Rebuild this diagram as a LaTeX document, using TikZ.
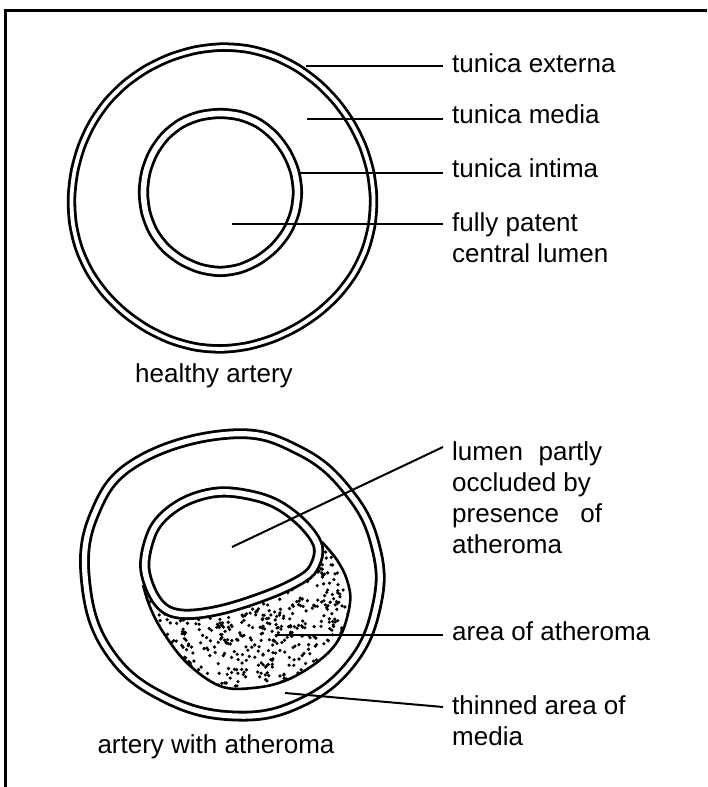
\documentclass[tikz,border=0pt]{standalone}
\usepackage{fontspec}
\setmainfont{Liberation Sans}
\begin{document}
\begin{tikzpicture}[x=1pt,y=-1pt,
  wall/.style={line width=2.8pt,double,double distance=#1},
  wall/.default=5pt,
  leader/.style={line width=2pt},
  every node/.style={font=\fontsize{26}{31}\selectfont,inner sep=0pt},
  lbl/.style={anchor=base west,align=left,inner xsep=9pt}]
\useasboundingbox (0,0) rectangle (707,787);
% frame
\draw[line width=3pt] (5.5,787) -- (5.5,10.5) -- (707,10.5);

% healthy artery: externa/media wall and intima ring
\draw[wall=3.8pt] plot[smooth cycle,domain=0:350,samples=36,variable=\t]
  ({222+151*(1+0.01*sin(3*\t+20))*cos(\t)},{198+150*(1+0.008*sin(4*\t+50))*sin(\t)});
\draw[wall=5.6pt] plot[smooth cycle,domain=0:345,samples=24,variable=\t]
  ({220+77*(1+0.006*sin(3*\t+80))*cos(\t)},{192+79*(1+0.006*sin(5*\t+10))*sin(\t)});

\coordinate (ext) at (306,66);
\coordinate (med) at (307,119);
\coordinate (int) at (300,173);
\coordinate (lum) at (232,224);
\node[lbl] (externa) at (443,72) {tunica externa};
\node[lbl] (media) at (443,123) {tunica media};
\node[lbl] (intima) at (443,177) {tunica intima};
\node[lbl] (patent) at (443,262) {fully patent\\central lumen};
\node[anchor=base] (healthy) at (214,382) {healthy artery};
\draw[leader] (ext) -- (ext -| externa.west);
\draw[leader] (med) -- (med -| media.west);
\draw[leader] (int) -- (int -| intima.west);
\draw[leader] (lum) -- (lum -| patent.west);

% artery with atheroma: stippled plaque first
\pgfmathsetseed{4217}
\begin{scope}
  \clip plot[smooth,tension=0.6] coordinates {(143,585) (150,607) (163,632) (187,663)
    (220,686) (253,688) (287,680) (320,660) (340,637) (350,603) (347,580) (337,560) (322,542)}
    -- (315,565) -- (303,578) -- (270,594) -- (220,610) -- (180,614) -- (158,602) -- cycle;
  \foreach \i in {1,...,850}
    \fill ({140+215*rnd},{540+150*rnd}) circle (1.8pt);
\end{scope}
\draw[line width=2.6pt] plot[smooth,tension=0.6] coordinates {(143,585) (150,607) (163,632) (187,663)
  (220,686) (253,688) (287,680) (320,660) (340,637) (350,603) (347,580) (337,560) (322,542)};
% outer wall and squashed intima ring
\draw[wall=5.2pt] plot[smooth cycle,tension=0.7] coordinates {(231,434) (300,451) (350,494)
  (376,548) (377,604) (352,662) (300,703) (235,716) (165,698) (110,653) (86,585) (94,515) (138,461)};
\draw[wall=5.6pt] plot[smooth cycle,tension=0.6] coordinates {(220,492) (254,496) (280,506)
  (304,525) (318,546) (315,565) (303,578) (270,594) (220,610) (180,614) (158,602) (145,570)
  (150,538) (163,517) (188,500)};

\coordinate (occl) at (232,547);
\coordinate (occl-tip) at (443,447);
\coordinate (plaque) at (275,635);
\coordinate (thin) at (285,693);
\coordinate (thin-tip) at (443,707);
\node[lbl] (partly) at (443,553) {\makebox[150pt][s]{lumen partly}\\occluded by\\\makebox[150pt][s]{presence of}\\atheroma};
\node[lbl] (area) at (443,640) {area of atheroma};
\node[lbl] (thinned) at (443,745) {thinned area of\\media};
\node[anchor=base] (diseased) at (216,753) {artery with atheroma};
\draw[leader] (occl) -- (occl-tip);
\draw[leader] (plaque) -- (plaque -| area.west);
\draw[leader] (thin) -- (thin-tip);
\end{tikzpicture}
\end{document}
